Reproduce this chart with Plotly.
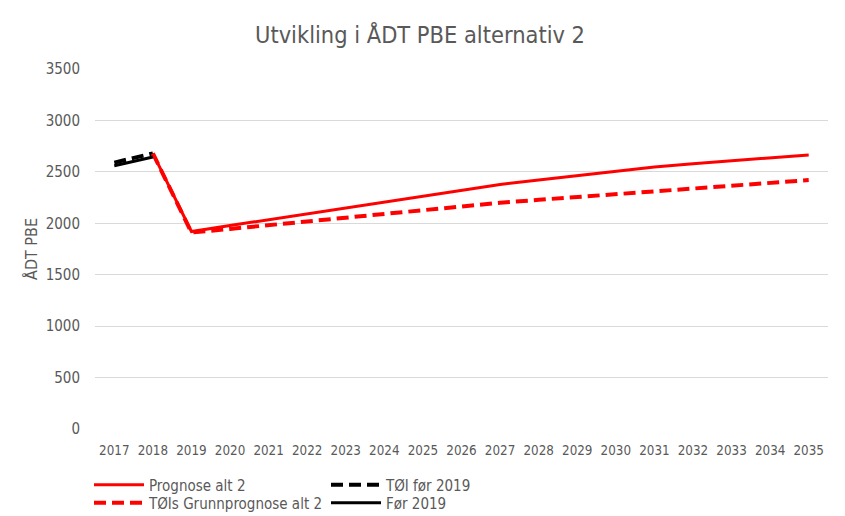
import plotly.graph_objects as go

years = [str(y) for y in range(2017, 2036)]

# Prognose alt 2 (from 2018)
prognose_years = years[1:]
prognose = [2680, 1920, 1978, 2035, 2092, 2148, 2205, 2262, 2320, 2378, 2420, 2462, 2505, 2548, 2578, 2605, 2632, 2665]

# TØIs Grunnprognose alt 2 (from 2018)
grunn_years = years[1:]
grunn = [2680, 1910, 1945, 1982, 2018, 2054, 2090, 2127, 2163, 2200, 2228, 2256, 2284, 2312, 2339, 2366, 2393, 2420]

# TØI før 2019
toi_years = years[:2]
toi = [2590, 2680]

# Før 2019
for_years = years[:2]
for2019 = [2560, 2645]

FONT = "DejaVu Sans Condensed, DejaVu Sans, sans-serif"
GRAY = "#595959"
DASH = "12px,6px"

# page body has an 8px default margin, so the figure is drawn 8px smaller
W, H = 837, 508

fig = go.Figure()
fig.add_trace(go.Scatter(x=prognose_years, y=prognose, mode="lines", name="Prognose alt 2",
                         line=dict(color="#ff0000", width=3), legend="legend"))
fig.add_trace(go.Scatter(x=toi_years, y=toi, mode="lines", name="TØI før 2019",
                         line=dict(color="#000000", width=4, dash=DASH), legend="legend"))
fig.add_trace(go.Scatter(x=grunn_years, y=grunn, mode="lines", name="TØIs Grunnprognose alt 2",
                         line=dict(color="#ff0000", width=4, dash=DASH), legend="legend2"))
fig.add_trace(go.Scatter(x=for_years, y=for2019, mode="lines", name="Før 2019",
                         line=dict(color="#000000", width=3), legend="legend2"))

legend_common = dict(orientation="h", xref="container", yref="container",
                     xanchor="left", yanchor="middle", x=81 / W,
                     font=dict(family=FONT, size=15, color=GRAY), bgcolor="rgba(0,0,0,0)",
                     entrywidth=172, entrywidthmode="pixels", itemwidth=50, tracegroupgap=0)

fig.update_layout(
    width=W, height=H,
    paper_bgcolor="white", plot_bgcolor="white",
    margin=dict(l=87, r=17, t=61, b=87, autoexpand=False),
    title=dict(text="Utvikling i ÅDT PBE alternativ 2", x=412 / W, xanchor="center",
               yref="container", y=1 - 27 / H, yanchor="middle",
               font=dict(family=FONT, size=23.4, color=GRAY)),
    xaxis=dict(type="category", categoryorder="array", categoryarray=years,
               range=[-0.5, 18.5], showgrid=False, showline=False, zeroline=False,
               tickfont=dict(family=FONT, size=13.3, color=GRAY), ticks="", ticklabelstandoff=12),
    yaxis=dict(range=[0, 3500], dtick=500, showgrid=True, gridcolor="#d9d9d9", gridwidth=1,
               zeroline=False, showline=False, ticks="", ticklabelstandoff=14,
               tickfont=dict(family=FONT, size=15, color=GRAY),
               title=dict(text="ÅDT PBE", font=dict(family=FONT, size=16, color=GRAY), standoff=4)),
    legend=dict(**legend_common, y=1 - 477 / H),
    legend2=dict(**legend_common, y=1 - 495 / H),
    showlegend=True,
)

fig.write_html("out.html")
